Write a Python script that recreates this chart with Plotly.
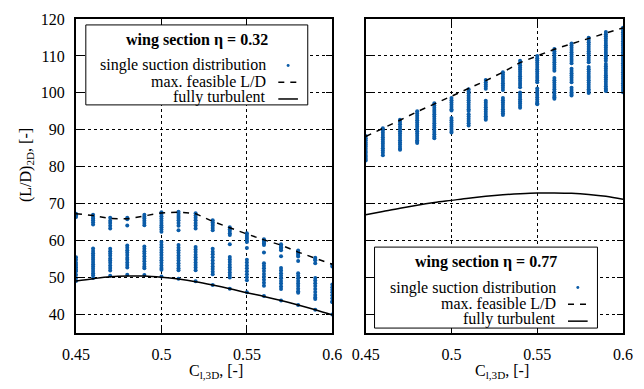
import plotly.graph_objects as go

# ---------------- data ----------------
cl_3d = [0.45, 0.46, 0.47, 0.48, 0.49, 0.50, 0.51, 0.52,
         0.53, 0.54, 0.55, 0.56, 0.57, 0.58, 0.59, 0.60]
x_ticks = [0.45, 0.5, 0.55, 0.6]
x_tick_labels = ["0.45", "0.5", "0.55", "0.6"]
y_ticks = [40, 50, 60, 70, 80, 90, 100, 110, 120]

# wing section eta = 0.32
max_ld_032 = [67.3, 66.8, 66.0, 65.9, 66.7, 67.5, 67.7, 67.3,
              65.2, 63.4, 61.8, 60.2, 58.8, 56.9, 55.2, 53.6]
turb_032 = [49.1, 49.7, 50.2, 50.4, 50.4, 50.1, 49.6, 48.9,
            48.0, 47.0, 45.9, 44.9, 43.8, 42.6, 41.3, 39.9]
suction_032 = [
    [67.3, 66.9, 66.4, 55.5, 54.8, 54.0, 53.4, 52.8, 52.2, 51.7, 50.8, 49.9, 49.1],
    [67.0, 66.5, 66.0, 65.5, 65.0, 64.4, 57.9, 57.2, 56.6, 56.0, 55.4, 54.8, 54.2,
     53.6, 53.0, 52.4, 51.8, 51.2, 50.6, 49.9],
    [66.2, 65.4, 64.8, 64.0, 63.3, 57.8, 57.1, 56.5, 55.9, 55.2, 54.6, 54.0, 53.3,
     52.6, 51.9, 50.5],
    [66.2, 65.8, 64.1, 58.7, 58.1, 57.4, 56.8, 56.1, 55.4, 54.8, 54.1, 53.4, 52.7, 50.8],
    [67.0, 66.5, 66.0, 65.4, 64.8, 64.2, 58.4, 57.8, 57.1, 56.5, 55.8, 55.1, 54.4,
     53.7, 53.0, 52.5, 50.7],
    [67.7, 67.2, 66.6, 66.0, 65.4, 64.8, 64.2, 63.6, 63.0, 62.4, 59.6, 58.9, 58.2,
     57.5, 56.8, 56.1, 55.4, 54.7, 54.0, 53.3, 52.6, 52.1, 50.3],
    [67.8, 67.3, 66.7, 66.1, 65.5, 64.8, 64.0, 62.8, 58.8, 58.1, 57.4, 56.7, 56.0,
     55.3, 54.6, 53.9, 53.2, 52.5, 52.0, 49.7],
    [67.4, 66.8, 66.2, 65.5, 64.8, 64.1, 63.3, 58.3, 57.6, 56.9, 56.2, 55.5, 54.8,
     54.1, 53.4, 52.7, 52.0, 49.0],
    [65.5, 65.0, 64.5, 64.0, 63.4, 62.8, 57.8, 57.0, 56.3, 55.5, 54.6, 53.8, 53.0,
     52.3, 51.6, 50.9, 48.0],
    [63.6, 63.1, 62.6, 62.0, 61.5, 59.0, 55.6, 54.9, 54.2, 53.5, 52.8, 52.1, 51.4,
     50.7, 50.0, 47.0],
    [62.0, 61.5, 61.0, 60.5, 60.0, 59.6, 58.0, 54.8, 54.1, 53.3, 52.5, 51.7, 50.9,
     50.1, 49.3, 46.0],
    [60.4, 60.0, 59.6, 59.2, 58.8, 56.8, 53.9, 53.2, 52.5, 51.8, 51.0, 50.2, 49.4,
     48.6, 47.8, 45.0],
    [59.0, 58.6, 58.2, 57.8, 57.4, 55.8, 52.6, 51.9, 51.2, 50.5, 49.8, 49.1, 48.4,
     47.6, 46.9, 43.8],
    [57.3, 56.9, 56.5, 56.1, 55.7, 54.5, 51.2, 50.5, 49.8, 49.1, 48.4, 47.7, 47.0,
     46.3, 45.9, 42.6],
    [55.4, 55.0, 54.7, 53.9, 49.9, 49.2, 48.5, 47.7, 46.9, 46.1, 45.3, 44.6, 44.2, 41.3],
    [53.5, 53.0, 48.1, 47.4, 46.7, 46.0, 45.2, 44.4, 43.6, 43.3, 40.0],
]

# wing section eta = 0.77
max_ld_077 = [88.2, 90.3, 92.6, 94.9, 97.0, 98.9, 101.0, 103.3,
              105.6, 108.2, 110.0, 111.8, 113.3, 114.8, 116.3, 117.6]
turb_077 = [67.0, 67.9, 68.8, 69.6, 70.3, 70.9, 71.5, 72.0,
            72.4, 72.7, 72.9, 72.9, 72.8, 72.5, 72.0, 71.2]
suction_077 = [
    [88.3, 87.7, 87.2, 86.6, 86.0, 85.5, 84.9, 84.3, 83.8, 83.2, 82.7, 82.2, 81.7],
    [90.4, 89.8, 89.2, 88.6, 88.0, 87.4, 86.8, 86.2, 85.6, 85.0, 84.4, 83.8, 83.1],
    [92.7, 92.1, 91.5, 90.8, 90.2, 89.6, 89.0, 88.4, 87.8, 87.2, 86.6, 86.0, 85.4,
     84.9, 84.6],
    [95.0, 94.4, 93.8, 93.2, 92.6, 92.0, 91.4, 90.8, 90.2, 89.6, 89.0, 88.4, 87.8,
     87.2, 86.8, 86.4],
    [97.2, 96.6, 96.0, 95.4, 94.8, 94.2, 93.6, 93.0, 92.4, 91.8, 91.2, 90.6, 90.0,
     89.4, 88.8, 88.2, 87.7],
    [98.6, 98.0, 97.4, 96.8, 96.2, 95.6, 95.2, 93.2, 92.6, 92.0, 91.4, 90.8, 90.2,
     89.7, 89.3],
    [101.0, 100.4, 99.8, 99.2, 98.6, 98.0, 97.4, 96.8, 96.2, 95.6, 95.1, 94.2, 93.6,
     93.0, 92.4, 91.8, 91.2],
    [103.5, 102.9, 102.3, 101.7, 101.1, 97.9, 97.3, 96.7, 96.1, 95.5, 94.9, 94.3,
     93.7, 93.2, 92.7],
    [105.6, 105.0, 104.4, 103.8, 103.2, 102.6, 102.0, 101.4, 100.8, 98.6, 98.0, 97.4,
     96.8, 96.2, 95.6, 95.0, 94.5, 94.0],
    [108.7, 108.1, 107.5, 106.9, 106.3, 105.7, 105.1, 104.5, 103.9, 103.3, 102.7,
     102.1, 101.5, 100.1, 99.5, 98.9, 98.3, 97.7, 97.1, 96.5, 96.0],
    [110.0, 109.4, 108.8, 108.2, 107.6, 107.0, 106.4, 105.8, 105.2, 104.6, 104.0,
     103.4, 102.9, 101.2, 100.6, 100.0, 99.4, 98.8, 98.2, 97.6, 97.2, 96.9],
    [111.9, 111.3, 110.7, 110.1, 109.5, 108.9, 108.3, 107.7, 107.1, 106.5, 106.0,
     104.0, 103.4, 102.8, 102.2, 101.6, 101.0, 100.4, 99.8, 99.2, 98.8, 98.4],
    [113.4, 112.8, 112.2, 111.6, 111.0, 110.4, 109.8, 109.2, 108.6, 108.0, 106.5,
     105.9, 105.3, 104.7, 104.1, 103.5, 102.9, 101.4, 100.8, 100.2, 99.7, 99.3],
    [114.9, 114.3, 113.7, 113.1, 112.5, 111.9, 111.3, 110.7, 110.1, 109.5, 108.9,
     108.3, 107.0, 106.4, 105.8, 105.2, 104.6, 104.0, 103.4, 102.8, 102.2, 101.6,
     101.0, 100.5, 100.0],
    [116.5, 115.9, 115.3, 114.7, 114.1, 113.5, 112.9, 112.3, 111.7, 111.1, 110.5,
     109.9, 109.3, 108.7, 107.8, 107.2, 106.6, 106.0, 105.4, 104.8, 104.2, 103.6,
     103.0, 102.4, 101.8, 101.2, 100.8, 100.5],
    [117.6, 117.0, 116.4, 115.8, 115.2, 114.6, 114.0, 113.4, 112.8, 112.2, 111.6,
     111.0, 110.4, 109.8, 109.2, 108.6, 108.0, 107.4, 106.8, 106.2, 105.6, 105.0,
     104.4, 103.8, 103.2, 102.6, 102.0, 101.4, 100.8, 100.2],
]

legend_titles = ["wing section η = 0.32", "wing section η = 0.77"]
legend_labels = ["single suction distribution", "max. feasible L/D", "fully turbulent"]

# ---------------- styling ----------------
W, H = 644, 389
ML, MR, MT, MB = 76, 11, 15, 56
PW, PH = W - ML - MR, H - MT - MB
FONT = "Liberation Serif"
BLUE = "#0b5ca8"


def px(xp):
    return (xp - ML) / PW


def py(yp):
    return (H - MB - yp) / PH


def flatten(cols):
    xs, ys = [], []
    for xv, col in zip(cl_3d, cols):
        for v in col:
            xs.append(xv)
            ys.append(v)
    return xs, ys


fig = go.Figure()

for k, (suc, mx, tb) in enumerate([(suction_032, max_ld_032, turb_032),
                                   (suction_077, max_ld_077, turb_077)]):
    xa = "x" if k == 0 else "x2"
    ya = "y" if k == 0 else "y2"
    sx, sy = flatten(suc)
    fig.add_trace(go.Scatter(x=sx, y=sy, mode="markers", xaxis=xa, yaxis=ya,
                             marker=dict(size=4, color=BLUE, line=dict(width=0)),
                             showlegend=False, hoverinfo="x+y"))
    fig.add_trace(go.Scatter(x=cl_3d, y=mx, mode="lines", xaxis=xa, yaxis=ya,
                             line=dict(color="black", width=1.5, dash="6px,6px"),
                             showlegend=False))
    fig.add_trace(go.Scatter(x=cl_3d, y=tb, mode="lines", xaxis=xa, yaxis=ya,
                             line=dict(color="black", width=1.5, shape="spline"),
                             showlegend=False))

d1 = (337 - ML) / PW
d2 = (371 - ML) / PW

axis_common = dict(
    showline=True, linecolor="black", linewidth=2, mirror="allticks",
    ticks="inside", ticklen=6, tickwidth=1, tickcolor="black",
    showgrid=True, gridcolor="black", gridwidth=1, griddash="dot",
    zeroline=False, tickfont=dict(family=FONT, size=16, color="black"),
)

fig.update_layout(
    width=W, height=H,
    margin=dict(l=ML, r=MR, t=MT, b=MB),
    paper_bgcolor="white", plot_bgcolor="white",
    showlegend=False,
    font=dict(family=FONT, size=16, color="black"),
    xaxis=dict(domain=[0, d1], range=[0.45, 0.6], tickvals=x_ticks,
               ticktext=x_tick_labels, anchor="y", ticklabelstandoff=6, **axis_common),
    xaxis2=dict(domain=[d2, 1], range=[0.45, 0.6], tickvals=x_ticks,
                ticktext=x_tick_labels, anchor="y2", ticklabelstandoff=6, **axis_common),
    yaxis=dict(range=[35, 120], tickvals=y_ticks, anchor="x", ticklabelstandoff=6,
               **axis_common),
    yaxis2=dict(range=[35, 120], tickvals=y_ticks, anchor="x2", matches="y",
                showticklabels=False, **axis_common),
)

annotations = []
shapes = []

# axis titles
annotations.append(dict(text="(L/D)<sub>2D</sub>, [-]", xref="paper", yref="paper",
                        x=px(25), y=py(163), textangle=-90, showarrow=False,
                        font=dict(family=FONT, size=16), xanchor="center", yanchor="middle"))
for cx in (219, 510):
    annotations.append(dict(text="C<sub>l,3D</sub>, [-]", xref="paper", yref="paper",
                            x=px(cx), y=py(372), showarrow=False,
                            font=dict(family=FONT, size=16),
                            xanchor="center", yanchor="middle"))

# legend boxes
legend_boxes = [(86, 312, 21, 102, 199, 272, 292), (380, 607, 246, 328, 494, 567, 587)]
for title, (x0, x1, y0, y1, tx, rx, sx) in zip(legend_titles, legend_boxes):
    shapes.append(dict(type="rect", xref="paper", yref="paper",
                       x0=px(x0), x1=px(x1), y0=py(y0), y1=py(y1),
                       fillcolor="white", line=dict(color="black", width=1),
                       layer="above"))
    annotations.append(dict(text="<b>" + title + "</b>", xref="paper", yref="paper",
                            x=px(tx), y=py(y0 + 15), showarrow=False,
                            font=dict(family=FONT, size=16),
                            xanchor="center", yanchor="middle"))
    rows = [y0 + 41, y0 + 57, y0 + 73]
    for lab, ry in zip(legend_labels, rows):
        annotations.append(dict(text=lab, xref="paper", yref="paper",
                                x=px(rx), y=py(ry), showarrow=False,
                                font=dict(family=FONT, size=16),
                                xanchor="right", yanchor="middle"))
    shapes.append(dict(type="circle", xref="paper", yref="paper",
                       x0=px(sx - 1.5), x1=px(sx + 1.5),
                       y0=py(rows[0] + 1.5), y1=py(rows[0] - 1.5),
                       fillcolor=BLUE, line=dict(width=0), layer="above"))
    shapes.append(dict(type="line", xref="paper", yref="paper",
                       x0=px(sx - 10), x1=px(sx + 10), y0=py(rows[1] + 1), y1=py(rows[1] + 1),
                       line=dict(color="black", width=1.5, dash="6px,6px"), layer="above"))
    shapes.append(dict(type="line", xref="paper", yref="paper",
                       x0=px(sx - 10), x1=px(sx + 10), y0=py(rows[2] + 2), y1=py(rows[2] + 2),
                       line=dict(color="black", width=1.5), layer="above"))

fig.update_layout(annotations=annotations, shapes=shapes)
fig.write_html("out.html")
